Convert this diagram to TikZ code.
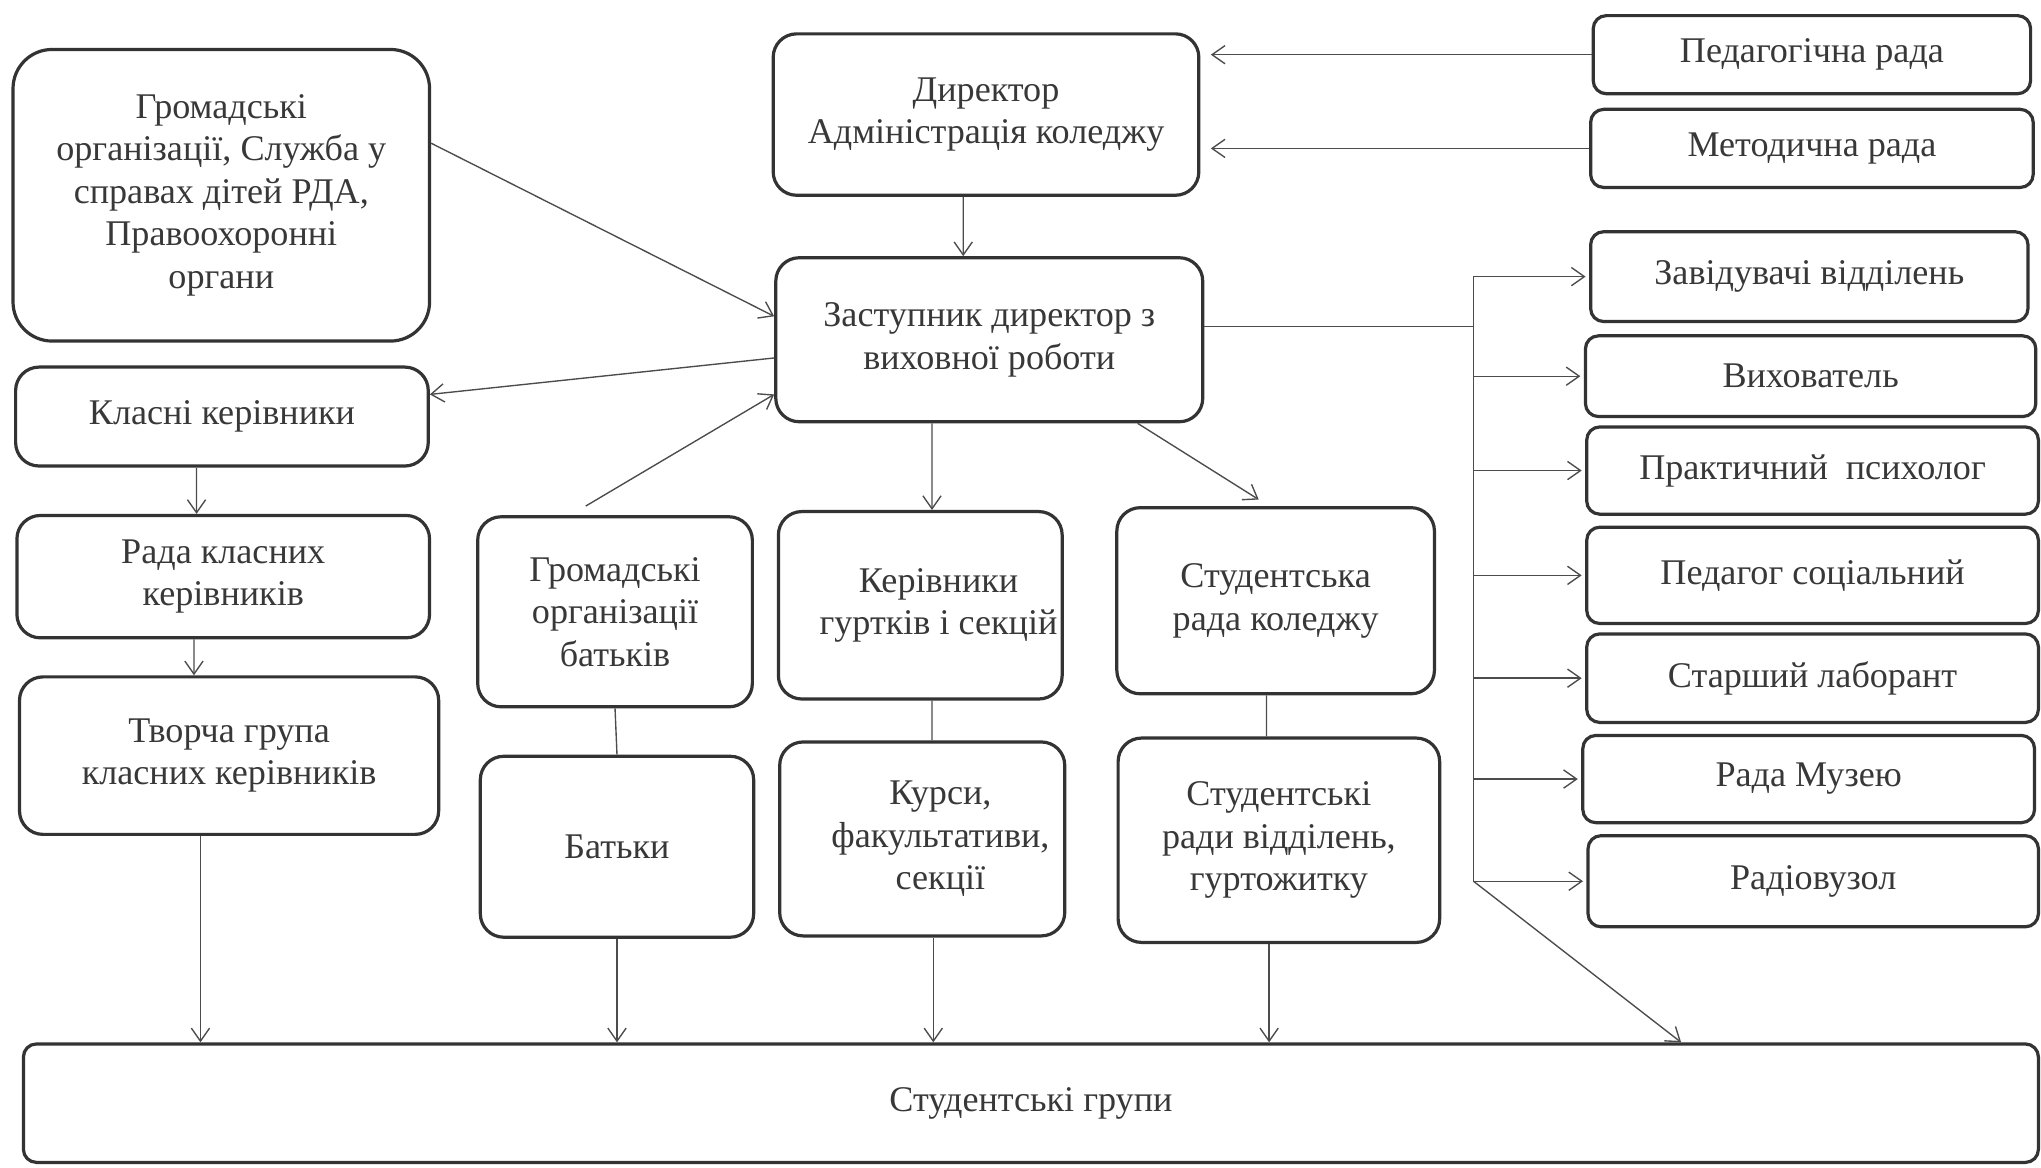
\documentclass[tikz,border=0pt]{standalone}
\usepackage{fontspec}
\setmainfont{Liberation Serif}
\usetikzlibrary{arrows.meta,positioning}

\tikzset{
	blok/.style={draw=black!80, line width=1.4pt, rounded corners=0.36cm, align=center, text=black!78, font=\fontsize{15.8}{18.6}\selectfont, inner sep=1pt},
	sblok/.style={blok, rounded corners=0.2cm},
	boxsize/.style 2 args={minimum width=#1*0.02cm, minimum height=#2*0.02cm},
	ln/.style={draw=black!70, line width=0.6pt},
	arr/.style={ln, -{Straight Barb[length=2mm,width=2.8mm]}},
}
\newcommand{\rsh}{\hspace*{0.56cm}}

\begin{document}
\begin{tikzpicture}[x=0.02cm, y=-0.02cm]
	\useasboundingbox (0,0) rectangle (1568,897);

	% Centre
	\node[blok, boxsize={327}{124}] (dir) at (757.5,88) {Директор\\Адміністрація коледжу};
	\node[blok, boxsize={328}{126}] (zast) at (760,261) {Заступник директор з\\виховної роботи};

	% Left column
	\node[blok, rounded corners=0.6cm, boxsize={320}{224}] (gro) at (170,150) {Громадські\\організації, Служба у\\справах дітей РДА,\\Правоохоронні\\органи};
	\node[blok, boxsize={317}{76}] (kl) at (170.5,320) {Класні керівники};
	\node[blok, boxsize={317}{94}] (rada) at (171.5,443) {Рада класних\\керівників};
	\node[blok, boxsize={322}{121}] (tvor) at (176,580.5) {Творча група\\класних керівників};

	% Middle rows
	\node[blok, boxsize={211}{146}] (grob) at (472.5,470) {Громадські\\організації\\батьків};
	\node[blok, boxsize={210}{139}] (bat) at (474,650.5) {Батьки};
	\node[blok, boxsize={218}{144}] (kerg) at (707,465) {\rsh Керівники\\\rsh гуртків і секцій};
	\node[blok, boxsize={219}{149}] (kurs) at (708.5,644.5) {\rsh Курси,\\\rsh факультативи,\\\rsh секції};
	\node[blok, boxsize={244}{143}] (strada) at (980,461.5) {Студентська\\рада коледжу};
	\node[blok, boxsize={247}{157}] (strady) at (982.5,645.5) {Студентські\\ради відділень,\\гуртожитку};

	% Right column
	\node[sblok, boxsize={336}{60}] (ped) at (1392,42) {Педагогічна рада};
	\node[sblok, boxsize={340}{60}] (met) at (1392,114) {Методична рада};
	\node[sblok, boxsize={336}{69}] (zav) at (1390,212.5) {Завідувачі відділень};
	\node[sblok, boxsize={346}{62}] (vyh) at (1391,289) {Вихователь};
	\node[sblok, boxsize={347}{67}] (psy) at (1392.5,361.5) {Практичний\ \ психолог};
	\node[sblok, boxsize={347}{74}] (soc) at (1392.5,442) {Педагог соціальний};
	\node[sblok, boxsize={347}{68}] (lab) at (1392.5,521) {Старший лаборант};
	\node[sblok, boxsize={347}{67}] (muz) at (1389.5,598.5) {Рада Музею};
	\node[sblok, boxsize={346}{70}] (rad) at (1393,677) {Радіовузол};

	% Bottom
	\node[sblok, boxsize={1548}{91}] (grp) at (792,847.5) {Студентські групи};

	% Arrows to and from the centre
	\draw[arr, shorten >=0.16cm] (ped.west) -- (ped.west -| dir.east);
	\draw[arr, shorten >=0.16cm] (met.west) -- (met.west -| dir.east);
	\draw[arr] ([xshift=-0.35cm]dir.south) -- ([xshift=-0.4cm]zast.north);
	\draw[arr] ([yshift=0.8cm]gro.east) -- ([yshift=0.36cm]zast.west);
	\draw[arr] ([yshift=-0.28cm]zast.west) -- ([yshift=0.34cm]kl.east);
	\draw[arr] ([xshift=-0.45cm,yshift=0.14cm]grob.north) -- ([yshift=-0.84cm]zast.west);
	\draw[arr] ([xshift=-0.88cm]zast.south) -- ([xshift=0.18cm]kerg.north);
	\draw[arr] ([xshift=2.28cm]zast.south) -- ([xshift=-0.26cm,yshift=0.1cm]strada.north);

	% Bus on the right
	\coordinate (bus) at (1132,251);
	\draw[ln] (zast.east |- bus) -- (bus);
	\draw[ln] (bus |- zav.west) -- (bus |- rad.west);
	\foreach \n in {zav,vyh,psy,soc,lab,muz,rad}
		\draw[arr, shorten >=1.5pt] (bus |- \n.west) -- (\n.west);
	\draw[arr] (bus |- rad.west) -- ([xshift=25.5cm]grp.north west);

	% Left chain
	\draw[arr] ([xshift=-0.39cm]kl.south) -- ([xshift=-0.41cm]rada.north);
	\draw[arr] ([xshift=-0.45cm]rada.south) -- ([xshift=-0.54cm]tvor.north);
	\draw[arr] ([xshift=-0.44cm]tvor.south) -- ([xshift=-0.44cm]tvor.south |- grp.north);

	% Lower links
	\draw[ln] (grob.south) -- (bat.north);
	\draw[ln] ([xshift=0.18cm]kerg.south) -- ([xshift=0.15cm]kurs.north);
	\draw[ln] ([xshift=-0.14cm]strada.south) -- ([xshift=-0.19cm]strady.north);
	\draw[arr] (bat.south) -- (bat.south |- grp.north);
	\draw[arr] ([xshift=0.17cm]kurs.south) -- ([xshift=0.17cm]kurs.south |- grp.north);
	\draw[arr] ([xshift=-0.15cm]strady.south) -- ([xshift=-0.15cm]strady.south |- grp.north);
\end{tikzpicture}
\end{document}
